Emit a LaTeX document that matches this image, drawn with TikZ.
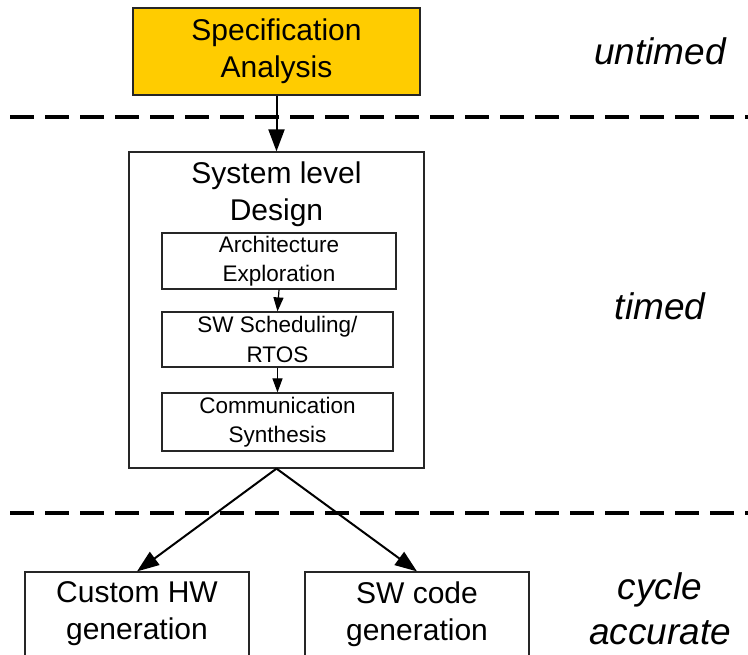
\documentclass[tikz,border=0pt]{standalone}
\usepackage{fontspec}
\setmainfont{Liberation Sans}
\usetikzlibrary{arrows.meta}
\definecolor{specyellow}{HTML}{FFCC00}
\def \LineW {1.2pt}
\tikzstyle{block}=[
  draw=black!85,
  line width=\LineW,
  rectangle,
  inner sep=0pt,
  align=center,
  font=\fontsize{30}{37}\selectfont
]
\tikzstyle{subblock}=[block, font=\fontsize{22.5}{29.5}\selectfont]
\tikzstyle{timing}=[inner sep=0pt, align=center, font=\fontsize{37}{45}\selectfont\itshape]
\tikzstyle{divider}=[line width=4pt, dash pattern=on 24pt off 11pt]
\tikzstyle{flow}=[line width=2pt, -{Triangle[length=22pt,width=16pt]}]
\tikzstyle{subflow}=[line width=1.2pt, -{Triangle[length=14pt,width=10pt]}]

\begin{document}
\begin{tikzpicture}[x=1pt,y=1pt]
          \useasboundingbox (0,0) rectangle (748,-655);
          \clip (0,0) rectangle (748,-655);

          % levels
          \coordinate (d1a) at (10,-117);
          \coordinate (d1b) at (748,-117);
          \coordinate (d2a) at (10,-513);
          \coordinate (d2b) at (748,-513);
          \draw[divider] (d1a) -- (d1b);
          \draw[divider] (d2a) -- (d2b);

          \node[timing, anchor=base] (untimed) at (660,-65) {untimed};
          \node[timing, anchor=base] (timed) at (660,-320) {timed};
          \node[timing] (cycle) at (660,-609) {cycle\\accurate};

          % spec
          \node[block, fill=specyellow, minimum width=287pt, minimum height=87pt] (spec) at (276.5,-51.5) {Specification\\Analysis};

          % system level
          \node[block, minimum width=295pt, minimum height=316pt] (sys) at (276.5,-310) {};
          \node[anchor=north, inner sep=0pt, align=center, font=\fontsize{30}{37}\selectfont] (systitle) at ([yshift=-10pt]sys.north) {System level\\Design};
          \node[subblock, minimum width=234pt, minimum height=56pt] (arch) at (279,-261) {Architecture\\Exploration};
          \node[subblock, minimum width=231pt, minimum height=55pt] (sched) at (277.5,-339.5) {SW Scheduling/\\RTOS};
          \node[subblock, minimum width=231pt, minimum height=58pt] (comm) at (277.5,-422) {Communication\\Synthesis};

          % generation
          \node[block, minimum width=224pt, minimum height=84pt] (hw) at (137,-614) {Custom HW\\generation};
          \node[block, minimum width=224pt, minimum height=84pt] (swc) at (417,-614) {SW code\\generation};

          % connect
          \draw[flow] (spec.south) -- (sys.north);
          \draw[subflow] (arch.south) -- (sched.north);
          \draw[subflow] (sched.south) -- (comm.north);
          \draw[flow] (sys.south) -- (hw.north);
          \draw[flow] (sys.south) -- (swc.north);
        \end{tikzpicture}
\end{document}
